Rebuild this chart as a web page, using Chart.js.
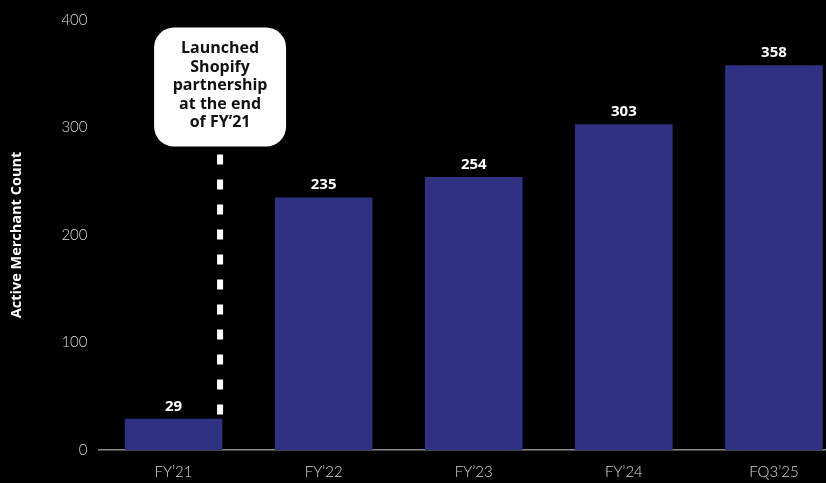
<!DOCTYPE html>
<html>
<head>
<meta charset="utf-8">
<script src="https://cdn.jsdelivr.net/npm/chart.js@4"></script>
<style>
  html, body { margin: 0; padding: 0; background: #000; overflow: hidden; }
  #wrap { width: 826px; height: 483px; overflow: hidden; }
</style>
</head>
<body>
<div id="wrap"><canvas id="merchants" width="900" height="483"></canvas></div>
<script>
const periods = ['FY\u201921', 'FY\u201922', 'FY\u201923', 'FY\u201924', 'FQ3\u201925'];
const merchantCounts = [29, 235, 254, 303, 358];
const yTicks = [0, 100, 200, 300, 400];
const calloutLines = ['Launched', 'Shopify', 'partnership', 'at the end', 'of FY\u201921'];

// value labels above each bar
const barValues = {
    id: 'barValues',
    afterDatasetsDraw(chart) {
        const ctx = chart.ctx;
        const meta = chart.getDatasetMeta(0);
        ctx.save();
        ctx.fillStyle = '#ffffff';
        ctx.font = 'bold 15px "Open Sans"';
        ctx.textAlign = 'center';
        ctx.textBaseline = 'bottom';
        meta.data.forEach((bar, i) => {
            ctx.fillText(merchantCounts[i], bar.x, bar.y - 5);
        });
        ctx.restore();
    }
};

// dashed marker + rounded note for the Shopify launch
const shopifyNote = {
    id: 'shopifyNote',
    afterDatasetsDraw(chart) {
        const ctx = chart.ctx;
        const x = chart.scales.x;
        const y = chart.scales.y;
        const step = x.getPixelForValue(1) - x.getPixelForValue(0);
        const lx = x.getPixelForValue(0) + step * 0.31;

        ctx.save();
        ctx.strokeStyle = '#ffffff';
        ctx.lineWidth = 6;
        ctx.setLineDash([10, 15]);
        ctx.beginPath();
        ctx.moveTo(lx, y.getPixelForValue(275));
        ctx.lineTo(lx, y.getPixelForValue(29));
        ctx.stroke();
        ctx.setLineDash([]);

        const boxW = 132, boxH = 119;
        const top = y.getPixelForValue(393);
        ctx.fillStyle = '#ffffff';
        ctx.beginPath();
        ctx.roundRect(lx - boxW / 2, top, boxW, boxH, 20);
        ctx.fill();

        ctx.fillStyle = '#111111';
        ctx.font = 'bold 16px "Open Sans"';
        ctx.textAlign = 'center';
        ctx.textBaseline = 'middle';
        calloutLines.forEach((line, i) => {
            ctx.fillText(line, lx, top + 21 + i * 18.5);
        });
        ctx.restore();
    }
};

new Chart(document.getElementById('merchants'), {
    type: 'bar',
    data: {
        labels: periods,
        datasets: [{
            data: merchantCounts,
            backgroundColor: '#2f3182',
            borderWidth: 0,
            barPercentage: 0.65,
            categoryPercentage: 1.0
        }]
    },
    options: {
        responsive: false,
        animation: false,
        layout: { padding: { top: 16, right: 51, bottom: 0, left: 0 } },
        plugins: {
            legend: { display: false },
            tooltip: { enabled: false }
        },
        scales: {
            x: {
                grid: { display: false, drawTicks: false },
                border: { display: true, color: '#8a8a8a', width: 1.5 },
                ticks: {
                    color: '#d8d8d8',
                    padding: 13,
                    font: { family: 'Lato', size: 15, weight: '300' }
                },
                afterFit(scale) { scale.height = 33; }
            },
            y: {
                min: 0,
                max: 400,
                afterBuildTicks(scale) { scale.ticks = yTicks.map(v => ({ value: v })); },
                grid: { display: false, drawTicks: false },
                border: { display: false },
                ticks: {
                    color: '#d8d8d8',
                    padding: 11,
                    font: { family: 'Lato', size: 15, weight: '300' }
                },
                title: {
                    display: true,
                    text: 'Active Merchant Count',
                    color: '#ffffff',
                    padding: { top: 8, bottom: 0 },
                    font: { family: 'Open Sans', size: 14.5, weight: 'bold' }
                },
                afterFit(scale) { scale.width = 98.5; }
            }
        }
    },
    plugins: [barValues, shopifyNote]
});
</script>
</body>
</html>
